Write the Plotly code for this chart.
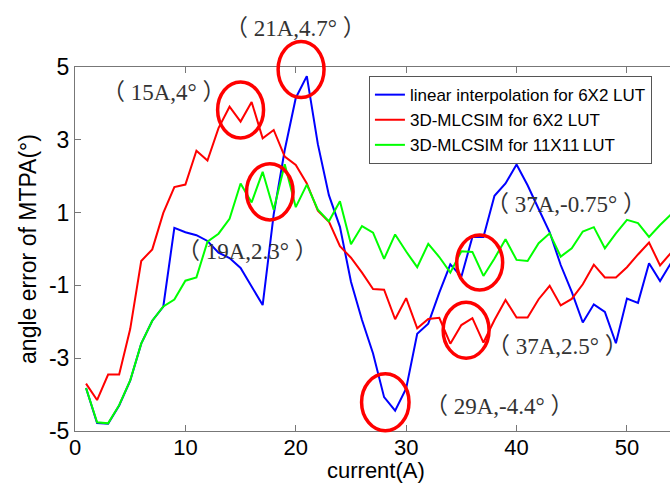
import plotly.graph_objects as go

# Stator current samples (A)
current = list(range(1, 55))

# MTPA angle error (degrees) for each method
err_linear_6x2 = [
    -3.82, -4.78, -4.80, -4.30, -3.62, -2.60, -1.97, -1.58, 0.58, 0.46,
    0.38, 0.22, -0.10, -0.25, -0.52, -1.04, -1.54, 0.95, 2.72, 4.15,
    4.75, 2.88, 1.48, 0.61, -0.90, -1.95, -2.87, -4.07, -4.44, -3.83,
    -2.33, -2.05, -1.20, -0.42, -0.76, 0.33, 0.33, 1.46, 1.80, 2.32,
    1.75, 1.10, 0.46, -0.44, -1.18, -2.02, -1.52, -1.73, -2.59, -1.36,
    -1.48, -0.39, -0.88, -0.38,
]
err_mlcsim_6x2 = [
    -3.70, -4.15, -3.45, -3.45, -2.20, -0.33, -0.01, 0.99, 1.70, 1.77,
    2.70, 2.43, 3.32, 3.91, 3.50, 4.04, 3.04, 3.27, 2.54, 2.31,
    1.80, 1.05, 0.75, 0.08, -0.24, -0.65, -1.10, -1.12, -1.93, -1.35,
    -2.18, -1.92, -1.89, -2.60, -2.09, -1.90, -2.57, -1.95, -1.40, -1.88,
    -1.88, -1.38, -1.01, -1.55, -1.37, -0.97, -0.43, -0.78, -0.78, -0.50,
    -0.15, 0.18, -0.45, -0.10,
]
err_mlcsim_11x11 = [
    -3.82, -4.76, -4.79, -4.29, -3.61, -2.60, -1.97, -1.58, -1.39, -0.87,
    -0.78, 0.20, 0.42, 0.83, 1.80, 1.28, 2.12, 1.08, 2.33, 1.15,
    1.77, 1.08, 0.76, 1.31, 0.13, 0.63, 0.45, -0.27, 0.40, -0.07,
    -0.50, 0.14, -0.22, -0.65, -0.06, -0.08, -0.74, -0.26, 0.27, -0.30,
    -0.33, 0.16, 0.43, -0.21, 0.02, 0.48, 0.60, 0.02, 0.43, 0.80,
    0.71, 0.33, 0.66, 0.95,
]

series_names = [
    "linear interpolation for 6X2 LUT",
    "3D-MLCSIM for 6X2 LUT",
    "3D-MLCSIM for 11X11\u2009LUT",
]

x_tickvals = [0, 10, 20, 30, 40, 50]
y_tickvals = [5, 3, 1, -1, -3, -5]
y_ticktext = ["5", "3", "1", "-1", "-3", "-5"]

# Highlighted points: label text, label position, circle centre and radii (data units)
callout_text = ["（ 21A,4.7° ）", "（ 15A,4° ）", "（ 19A,2.3° ）",
                "（ 37A,-0.75° ）", "（ 37A,2.5° ）", "（ 29A,-4.4° ）"]
callout_text_x = [19.98, 8.02, 15.63, 44.45, 43.72, 38.38]
callout_text_y = [6.07, 4.29, -0.08, 1.22, -2.69, -4.34]
circle_cx = [20.48, 15.00, 17.65, 36.66, 35.43, 28.11]
circle_cy = [4.93, 3.82, 1.57, -0.37, -2.23, -4.21]
circle_rx = [2.08, 2.08, 2.11, 2.08, 2.08, 2.15]
circle_ry = [0.77, 0.77, 0.77, 0.755, 0.77, 0.78]

X_RANGE = [0, 53.9]
Y_RANGE = [-5, 5]

fig = go.Figure()
for vals, name, color in [
    (err_linear_6x2, series_names[0], "#0000FF"),
    (err_mlcsim_6x2, series_names[1], "#FF0000"),
    (err_mlcsim_11x11, series_names[2], "#00FF00"),
]:
    fig.add_trace(go.Scatter(x=current, y=vals, mode="lines", name=name,
                             line=dict(color=color, width=2)))


def to_paper_x(v):
    return (v - X_RANGE[0]) / (X_RANGE[1] - X_RANGE[0])


def to_paper_y(v):
    return (v - Y_RANGE[0]) / (Y_RANGE[1] - Y_RANGE[0])


# circles and labels placed in paper space so they are not clipped at the frame
for cx, cy, rx, ry in zip(circle_cx, circle_cy, circle_rx, circle_ry):
    fig.add_shape(type="circle", xref="paper", yref="paper",
                  x0=to_paper_x(cx - rx), x1=to_paper_x(cx + rx),
                  y0=to_paper_y(cy - ry), y1=to_paper_y(cy + ry),
                  line=dict(color="#FF0000", width=3.5), layer="above")

for txt, tx, ty in zip(callout_text, callout_text_x, callout_text_y):
    fig.add_annotation(x=to_paper_x(tx), y=to_paper_y(ty), xref="paper", yref="paper",
                       xanchor="center", yanchor="middle",
                       text=txt, showarrow=False,
                       font=dict(family="Liberation Serif, Noto Sans CJK SC, serif",
                                 size=23, color="#333333"))

# x-axis title
fig.add_annotation(x=to_paper_x(27.3), y=-0.148, xref="paper", yref="paper",
                   xanchor="center", yanchor="bottom",
                   text="current(A)", showarrow=False,
                   font=dict(size=22, color="black"))

fig.update_layout(
    width=670, height=485,
    margin=dict(l=75, r=0, t=67, b=54),
    paper_bgcolor="white", plot_bgcolor="white",
    font=dict(family="Liberation Sans, Arial, sans-serif", color="black"),
    showlegend=True,
    legend=dict(x=0.494, y=0.975, xanchor="left", yanchor="top",
                bgcolor="white", bordercolor="#555555", borderwidth=1,
                font=dict(size=17, color="black"), tracegroupgap=0),
    xaxis=dict(range=X_RANGE, tickvals=x_tickvals, ticks="inside", ticklen=6,
               tickcolor="#777777", showline=True, linecolor="#777777",
               linewidth=1, mirror="ticks", showgrid=False, zeroline=False,
               tickfont=dict(size=22), ticklabelstandoff=-3),
    yaxis=dict(range=Y_RANGE, tickvals=y_tickvals, ticktext=y_ticktext,
               ticks="inside", ticklen=6, tickcolor="#777777", showline=True,
               linecolor="#777777", linewidth=1, showgrid=False, zeroline=False,
               tickfont=dict(size=23),
               title=dict(text="angle error of MTPA(°)", font=dict(size=23),
                          standoff=5)),
)

fig.write_html("out.html")
